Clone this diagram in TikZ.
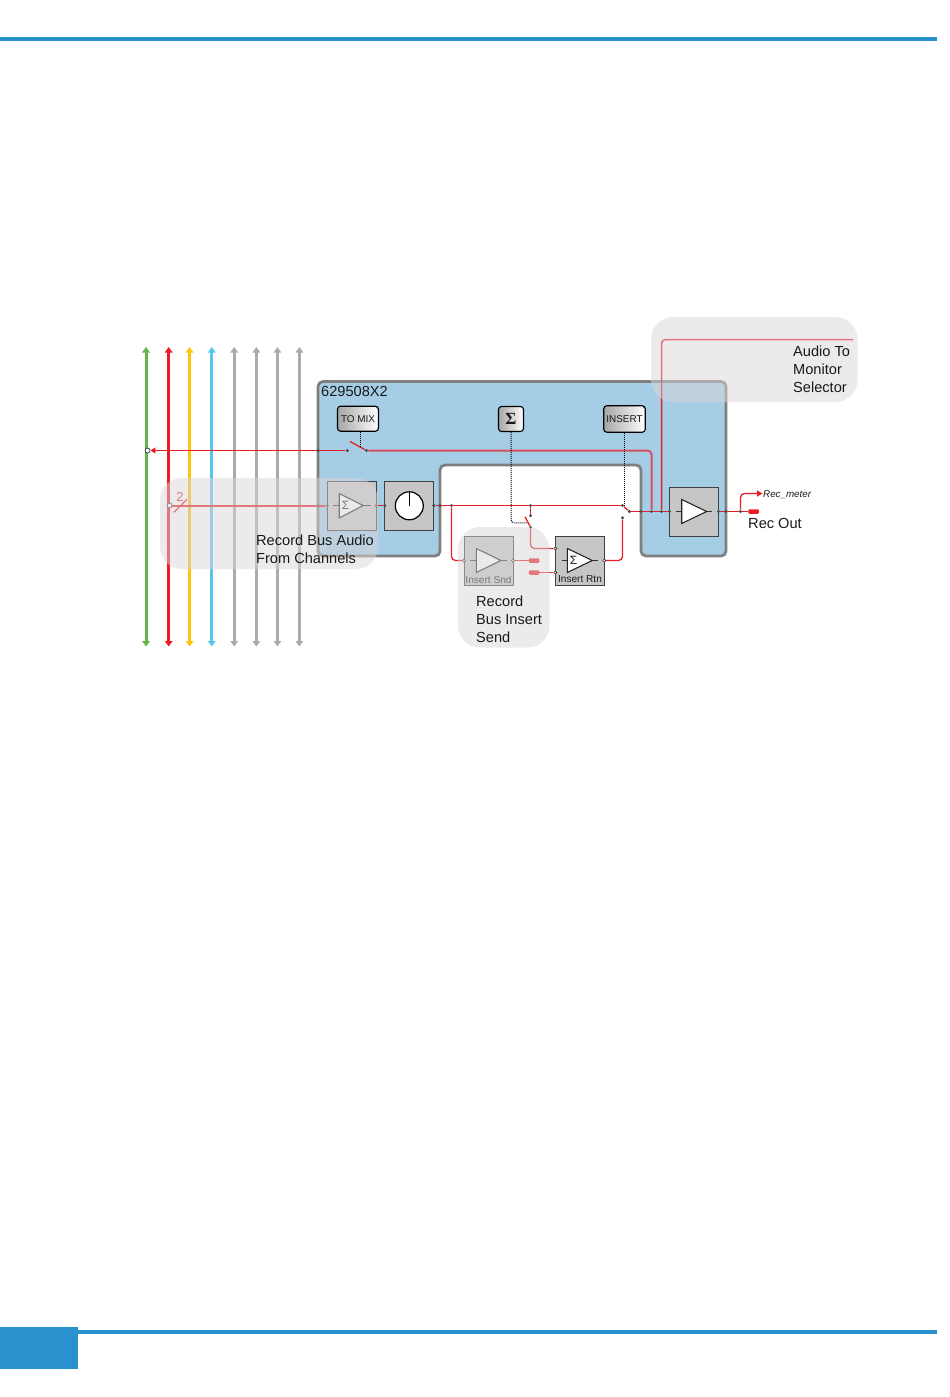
\documentclass[tikz,border=0pt]{standalone}
\usepackage{fontspec}
\usepackage{xcolor}
\setmainfont{Liberation Sans}
\newfontfamily\sigfont{Liberation Serif}
\usetikzlibrary{arrows.meta,backgrounds}
\definecolor{barblue}{HTML}{2992CE}
\definecolor{boxblue}{HTML}{A5CDE6}
\definecolor{edgegrey}{HTML}{7F7F7F}
\definecolor{ampgrey}{HTML}{C6C6C6}
\definecolor{wirered}{HTML}{ED1C24}
\definecolor{thickred}{HTML}{DB4E5E}
\definecolor{busgreen}{HTML}{62B546}
\definecolor{busyellow}{HTML}{FFC20E}
\definecolor{buscyan}{HTML}{58C5EE}
\definecolor{busgrey}{HTML}{ABABAB}
\definecolor{hilite}{HTML}{D9D5D7}
\begin{document}
\begin{tikzpicture}[x=1pt,y=1pt]
\tikzstyle{every node}+=[inner sep=0pt,text=black!90]
\tikzstyle{bus}=[line width=3pt,{Triangle[length=5.5pt,width=7.5pt]}-{Triangle[length=5.5pt,width=7.5pt]}]
\tikzstyle{wire}=[wirered,line width=1.3pt,rounded corners=4pt]
\tikzstyle{thickwire}=[thickred,line width=2pt,rounded corners=4pt]
\tikzstyle{dotwire}=[black,line width=1pt,densely dotted,rounded corners=3pt]
\tikzstyle{jack}=[circle,fill=black!70,minimum size=3.4pt]
\tikzstyle{openjack}=[circle,draw=black!80,fill=white,line width=0.7pt,minimum size=5pt]
\tikzstyle{smalljack}=[circle,draw=black!80,fill=white,line width=0.6pt,minimum size=3.2pt]
\tikzstyle{ampbox}=[draw=black!75,fill=ampgrey,line width=1pt,minimum size=49pt]
\tikzstyle{amptri}=[draw=black!85,fill=white,line width=1.1pt]
\tikzstyle{stub}=[black!80,line width=1.1pt]
\tikzstyle{btn}=[draw=black,line width=1.1pt,rounded corners=3pt,left color=black!35,middle color=white,right color=white,font=\fontsize{9.9}{12}\selectfont]
\tikzstyle{plug}=[rounded corners=1pt]
\tikzstyle{glow}=[fill=hilite,fill opacity=0.5,rounded corners=22pt]
\tikzstyle{lbl}=[anchor=west,align=left,font=\fontsize{14.6}{18}\selectfont]
\tikzstyle{tiny}=[font=\fontsize{10.1}{12}\selectfont]
\useasboundingbox (0,0) rectangle (950,-1397);
\coordinate (greentop) at (146,-347);
\coordinate (greenbot) at (146,-646.5);
\coordinate (redtop) at (168.7,-347);
\coordinate (redbot) at (168.7,-646.5);
\coordinate (yellowtop) at (189.6,-347);
\coordinate (yellowbot) at (189.6,-646.5);
\coordinate (cyantop) at (211.8,-347);
\coordinate (cyanbot) at (211.8,-646.5);
\coordinate (greyatop) at (234.2,-347);
\coordinate (greyabot) at (234.2,-646.5);
\coordinate (greybtop) at (256.4,-347);
\coordinate (greybbot) at (256.4,-646.5);
\coordinate (greyctop) at (277.4,-347);
\coordinate (greycbot) at (277.4,-646.5);
\coordinate (greydtop) at (299.4,-347);
\coordinate (greydbot) at (299.4,-646.5);
\begin{scope}[on background layer]
\fill [barblue] (0,-37.3) rectangle (937,-41);
\fill [barblue] (0,-1330) rectangle (937,-1334);
\fill [barblue] (0,-1327) rectangle (77.5,-1369);
\filldraw [fill=boxblue,draw=edgegrey,line width=2.8pt,rounded corners=5pt] (318,-381.5) -- (726,-381.5) -- (726,-556) -- (641,-556) -- (641,-465) -- (440,-465) -- (440,-556) -- (318,-556) -- cycle;
\draw [bus,busgreen] (greentop) -- (greenbot);
\draw [bus,wirered] (redtop) -- (redbot);
\draw [bus,busyellow] (yellowtop) -- (yellowbot);
\draw [bus,buscyan] (cyantop) -- (cyanbot);
\draw [bus,busgrey] (greyatop) -- (greyabot);
\draw [bus,busgrey] (greybtop) -- (greybbot);
\draw [bus,busgrey] (greyctop) -- (greycbot);
\draw [bus,busgrey] (greydtop) -- (greydbot);
\end{scope}
\node [ampbox] (recamp) at (351.7,-505.8) {};
\node [ampbox] (gainbox) at (409.3,-505.8) {};
\node [ampbox] (sndamp) at (488.5,-560.5) {};
\node [ampbox] (rtnamp) at (579.8,-560.5) {};
\node [ampbox] (outamp) at (694,-511.5) {};
\node [btn,minimum width=41pt,minimum height=25pt] (tomix) at (358,-418.7) {TO MIX};
\node [btn,minimum width=25pt,minimum height=25pt,font=\sigfont\bfseries\fontsize{17}{17}\selectfont] (sumbtn) at (511,-419) {Σ};
\node [btn,minimum width=41.5pt,minimum height=26.5pt] (insbtn) at (624.5,-419) {INSERT};
\node [openjack] (mixjack) at (147.6,-450.5) {};
\node [jack] (mixedge) at (318,-450.5) {};
\node [jack] (mixa) at (347.3,-450.5) {};
\node [jack] (mixb) at (366.5,-450.5) {};
\coordinate (mixtip) at (350,-441.5);
\coordinate (mixdot) at (360.5,-446.5);
\node [openjack] (busjack) at (169.6,-505.5) {};
\node [jack] (recedge) at (318,-505.5) {};
\node [jack] (recin) at (327.2,-505.5) {};
\node [jack] (recout) at (376.2,-505.5) {};
\node [jack] (gainin) at (384.8,-505.5) {};
\node [jack] (gainout) at (433.8,-505.5) {};
\node [jack] (notchl) at (440,-505.5) {};
\node [jack] (sndtap) at (451.5,-505.5) {};
\node [jack] (sumtap) at (530.5,-505.5) {};
\node [jack] (sumhi) at (530.5,-515.7) {};
\node [jack] (sumpole) at (530.5,-527.3) {};
\coordinate (sumtip) at (525,-516.7);
\coordinate (sumdot) at (527.3,-522.8);
\node [jack] (inshi) at (622.5,-505.5) {};
\node [jack] (inspole) at (629.3,-511.5) {};
\node [jack] (inslo) at (622.5,-517.8) {};
\node [jack] (notchr) at (640.7,-511.5) {};
\node [jack] (mixbus) at (651.5,-511.5) {};
\node [jack] (montap) at (661.5,-511.5) {};
\node [jack] (monedge) at (661.5,-381.3) {};
\coordinate (monend) at (853,-339.5);
\node [jack] (outin) at (669.5,-511.5) {};
\node [jack] (outout) at (718.5,-511.5) {};
\node [jack] (outedge) at (725.8,-511.5) {};
\node [jack] (metertap) at (740.5,-511.5) {};
\coordinate (metertip) at (762.5,-493.5);
\node [plug,fill=wirered,minimum width=10.5pt,minimum height=4.5pt] (recplug) at (753.7,-511.5) {};
\node [smalljack] (sndin) at (464,-560.5) {};
\node [smalljack] (sndout) at (513,-560.5) {};
\node [smalljack] (rtnina) at (555.3,-548.5) {};
\node [smalljack] (rtninb) at (555.3,-572.5) {};
\node [smalljack] (rtnout) at (604.3,-560.5) {};
\node [plug,fill=wirered,minimum width=10.5pt,minimum height=4.5pt] (sndplug) at (534.2,-560.5) {};
\node [plug,fill=wirered,minimum width=10.5pt,minimum height=4.5pt] (rtnplug) at (534,-572.5) {};
\begin{scope}[on background layer]
\draw [wire,line width=1pt,-{Triangle[length=5pt,width=6pt]}] (mixa) -- (mixjack);
\draw [wire] (mixb) -- (mixtip);
\draw [dotwire] (tomix.south -| mixdot) -- (mixdot);
\draw [thickwire] (mixb) -| (mixbus);
\draw [wire,line width=2pt] (busjack) -- (recin);
\draw [wire] (recout) -- (gainin);
\draw [wire] (gainout) -- (inshi);
\draw [wire] (sumtap) -- (sumhi);
\draw [wire] (sumpole) -- (sumtip);
\draw [dotwire] (sumbtn.south) |- (sumdot);
\draw [wire] (sumpole) |- (rtnina);
\draw [wire] (sndtap) |- (sndin);
\draw [wire] (sndout) -- (sndplug);
\draw [wire] (rtnplug) -- (rtninb);
\draw [wire] (rtnout) -| (inslo);
\draw [dotwire] (insbtn.south) -- (insbtn.south |- inshi);
\draw [wire] (inspole) -- (inshi);
\draw [wire] (inspole) -- (outin);
\draw [wire,line width=1.5pt] (montap) |- (monend);
\draw [wire] (outout) -- (recplug);
\draw [wire,-{Triangle[length=5.5pt,width=6pt]}] (metertap) |- (metertip);
\end{scope}
\draw [wirered,line width=1.2pt] (174,-512.3) -- (187,-499.3);
\draw [black!70,line width=0.5pt] ([shift={(-3,-1)}]tomix.north east) -- ([shift={(-1,-4)}]tomix.north east);
\draw [black!70,line width=0.5pt] ([shift={(-3,-1)}]insbtn.north east) -- ([shift={(-1,-4)}]insbtn.north east);
\draw [stub] (333,-505.5) -- (339,-505.5);
\draw [stub] (363,-505.5) -- (371,-505.5);
\filldraw [amptri] (339.2,-493.5) -- (363.2,-505.5) -- (339.2,-518) -- cycle;
\node at (345.5,-505.5) [font=\fontsize{12}{12}\selectfont] {Σ};
\filldraw [fill=white,draw=black,line width=1.2pt] (gainbox) circle (14);
\draw [black,line width=1.2pt] (gainbox.center) -- ++(0,14);
\draw [stub] (470,-560.5) -- (476.3,-560.5);
\draw [stub] (501,-560.5) -- (507,-560.5);
\filldraw [amptri] (476.3,-548.5) -- (501,-560.5) -- (476.3,-572.5) -- cycle;
\draw [stub] (561.7,-560.5) -- (567.3,-560.5);
\draw [stub] (592.3,-560.5) -- (598,-560.5);
\filldraw [amptri] (567.3,-548.5) -- (592.3,-560.5) -- (567.3,-572.5) -- cycle;
\node at (573.5,-560.5) [font=\fontsize{12}{12}\selectfont] {Σ};
\draw [stub] (676,-511.5) -- (681.7,-511.5);
\draw [stub] (706.7,-511.5) -- (712.3,-511.5);
\filldraw [amptri] (681.7,-499.5) -- (706.7,-511.5) -- (681.7,-523.5) -- cycle;
\node [tiny] (sndlabel) at (488.5,-579.5) {Insert Snd};
\node [tiny] (rtnlabel) at (580,-579.5) {Insert Rtn};
\node [text=wirered,font=\fontsize{13}{13}\selectfont] (countlabel) at (180,-497) {2};
\fill [glow] (160,-478) rectangle (378,-569);
\fill [glow] (458,-527) rectangle (549.5,-647.5);
\fill [glow] (651,-317) rectangle (857.5,-402);
\node [lbl] (titlelabel) at (321,-391) {629508X2};
\node [lbl] (inlabel) at (256,-549) {Record Bus Audio\\From Channels};
\node [lbl] (sendlabel) at (476,-619) {Record\\Bus Insert\\Send};
\node [lbl] (monlabel) at (793,-369.5) {Audio To\\Monitor\\Selector};
\node [lbl] (outlabel) at (748,-523) {Rec Out};
\node [anchor=west,font=\itshape\fontsize{9.8}{12}\selectfont] (meterlabel) at (763,-495) {Rec\_meter};
\end{tikzpicture}
\end{document}
